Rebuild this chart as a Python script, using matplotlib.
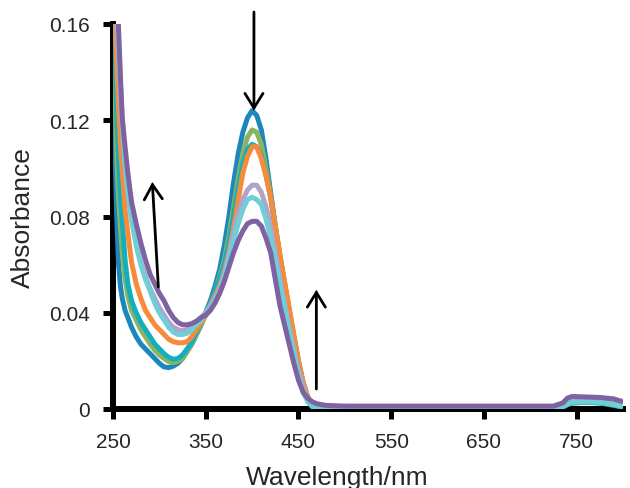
import matplotlib
matplotlib.use("Agg")
import matplotlib.pyplot as plt
from matplotlib.patches import FancyArrowPatch

plt.rcParams['font.family'] = ['Liberation Sans', 'DejaVu Sans']

# Wavelength grid (nm)
wavelength = [250, 252, 254, 256, 258, 260, 263, 266, 270, 275, 280, 285, 290, 295,
              300, 305, 310, 315, 320, 325, 330, 335, 340, 345, 350, 355, 360, 365,
              370, 375, 380, 385, 390, 395, 400, 405, 410, 415, 420, 425, 430, 435,
              440, 445, 450, 455, 460, 465, 470, 475, 480, 500, 550, 600, 650, 700,
              725, 735, 740, 745, 760, 775, 790, 800]

# Absorbance spectra recorded during the titration
abs_blue = [0.175, 0.110, 0.080, 0.060, 0.051, 0.046, 0.041, 0.038, 0.034, 0.030, 0.027, 0.025, 0.023, 0.021,
            0.019, 0.0175, 0.0172, 0.0178, 0.019, 0.021, 0.024, 0.027, 0.031, 0.035, 0.040, 0.045, 0.051, 0.058,
            0.068, 0.080, 0.094, 0.106, 0.115, 0.121, 0.124, 0.122, 0.116, 0.104, 0.090, 0.076, 0.063, 0.052,
            0.041, 0.030, 0.020, 0.011, 0.005, 0.0015, 0.0004, 0.0002, 0.0002, 0.0002, 0.0002, 0.0002, 0.0002, 0.0002,
            0.0002, 0.0008, 0.0018, 0.0025, 0.0028, 0.0025, 0.0015, 0.0008]
abs_green = [0.175, 0.135, 0.105, 0.088, 0.076, 0.065, 0.054, 0.047, 0.041, 0.037, 0.033, 0.030, 0.027, 0.0245,
             0.0225, 0.021, 0.0197, 0.0193, 0.0198, 0.021, 0.024, 0.027, 0.031, 0.035, 0.039, 0.044, 0.049, 0.055,
             0.062, 0.072, 0.084, 0.096, 0.106, 0.113, 0.116, 0.115, 0.110, 0.100, 0.089, 0.076, 0.064, 0.052,
             0.041, 0.030, 0.0195, 0.0105, 0.0045, 0.0013, 0.0004, 0.0002, 0.0002, 0.0002, 0.0002, 0.0002, 0.0002, 0.0002,
             0.0002, 0.0010, 0.0020, 0.0028, 0.0030, 0.0028, 0.0018, 0.0010]
abs_teal = [0.175, 0.150, 0.125, 0.104, 0.089, 0.078, 0.062, 0.052, 0.045, 0.040, 0.036, 0.033, 0.030, 0.027,
            0.025, 0.023, 0.0215, 0.0207, 0.021, 0.0225, 0.025, 0.028, 0.032, 0.036, 0.040, 0.044, 0.049, 0.054,
            0.060, 0.069, 0.080, 0.092, 0.102, 0.108, 0.110, 0.109, 0.105, 0.097, 0.088, 0.075, 0.063, 0.052,
            0.040, 0.029, 0.018, 0.009, 0.0035, 0.0010, 0.0003, 0.0002, 0.0002, 0.0002, 0.0002, 0.0002, 0.0002, 0.0002,
            0.0002, 0.0009, 0.0018, 0.0025, 0.0028, 0.0026, 0.0016, 0.0008]
abs_orange = [0.175, 0.162, 0.143, 0.125, 0.110, 0.099, 0.083, 0.073, 0.061, 0.052, 0.046, 0.041, 0.038, 0.035,
              0.033, 0.031, 0.029, 0.028, 0.0275, 0.0275, 0.028, 0.030, 0.033, 0.036, 0.039, 0.043, 0.047, 0.051,
              0.057, 0.065, 0.075, 0.087, 0.098, 0.105, 0.109, 0.109, 0.104, 0.097, 0.088, 0.076, 0.064, 0.053,
              0.042, 0.031, 0.020, 0.011, 0.005, 0.0015, 0.0005, 0.0004, 0.0004, 0.0005, 0.0005, 0.0005, 0.0005, 0.0005,
              0.0005, 0.0012, 0.0020, 0.0030, 0.0033, 0.0030, 0.0020, 0.0012]
abs_lavender = [0.180, 0.172, 0.160, 0.145, 0.130, 0.117, 0.101, 0.090, 0.079, 0.069, 0.061, 0.055, 0.050, 0.046,
                0.042, 0.039, 0.036, 0.034, 0.033, 0.0325, 0.033, 0.034, 0.036, 0.038, 0.040, 0.043, 0.046, 0.050,
                0.056, 0.064, 0.073, 0.081, 0.087, 0.091, 0.093, 0.093, 0.090, 0.084, 0.076, 0.065, 0.054, 0.044,
                0.034, 0.025, 0.016, 0.009, 0.004, 0.0018, 0.0012, 0.0010, 0.0010, 0.0010, 0.0010, 0.0010, 0.0010, 0.0010,
                0.0010, 0.0015, 0.0028, 0.0035, 0.0040, 0.0038, 0.0030, 0.0020]
abs_cyan = [0.190, 0.180, 0.168, 0.152, 0.135, 0.120, 0.103, 0.091, 0.079, 0.068, 0.060, 0.054, 0.049, 0.044,
            0.040, 0.037, 0.034, 0.032, 0.031, 0.031, 0.0315, 0.033, 0.035, 0.037, 0.039, 0.042, 0.045, 0.049,
            0.055, 0.062, 0.070, 0.077, 0.083, 0.087, 0.088, 0.087, 0.085, 0.079, 0.071, 0.062, 0.052, 0.042,
            0.032, 0.023, 0.014, 0.007, 0.003, 0.0010, 0.0005, 0.0004, 0.0004, 0.0004, 0.0004, 0.0004, 0.0004, 0.0004,
            0.0004, 0.0010, 0.0020, 0.0028, 0.0030, 0.0028, 0.0018, 0.0010]
abs_purple = [0.200, 0.190, 0.176, 0.158, 0.138, 0.121, 0.109, 0.098, 0.086, 0.077, 0.069, 0.062, 0.056, 0.052,
              0.048, 0.045, 0.041, 0.038, 0.036, 0.035, 0.035, 0.0355, 0.0365, 0.038, 0.039, 0.041, 0.044, 0.048,
              0.053, 0.059, 0.065, 0.070, 0.074, 0.077, 0.078, 0.078, 0.076, 0.071, 0.065, 0.054, 0.043, 0.035,
              0.027, 0.019, 0.012, 0.007, 0.0045, 0.0030, 0.0022, 0.0018, 0.0015, 0.0012, 0.0012, 0.0012, 0.0012, 0.0012,
              0.0012, 0.0025, 0.0045, 0.0052, 0.0050, 0.0048, 0.0042, 0.0030]

series = [
    (abs_blue, '#1C86BD'),
    (abs_green, '#8AB460'),
    (abs_teal, '#12B0BE'),
    (abs_orange, '#F68B3C'),
    (abs_lavender, '#B2A4C9'),
    (abs_cyan, '#6ECFD6'),
    (abs_purple, '#7E62A2'),
]

x_ticks = [250, 350, 450, 550, 650, 750]
y_ticks = [0, 0.04, 0.08, 0.12, 0.16]
y_tick_labels = ['0', '0.04', '0.08', '0.12', '0.16']

W, H = 630, 489
fig = plt.figure(figsize=(W / 100, H / 100), dpi=100)
ax = fig.add_axes([113 / W, 79 / H, 510 / W, 385 / H])

for values, color in series:
    ax.plot(wavelength, values, color=color, lw=3.6, solid_joinstyle='round',
            solid_capstyle='butt', zorder=3)

ax.set_xlim(250, 800)
ax.set_ylim(0, 0.16)
ax.set_xticks(x_ticks)
ax.set_yticks(y_ticks)
ax.set_yticklabels(y_tick_labels)

for side in ('top', 'right'):
    ax.spines[side].set_visible(False)
for side in ('left', 'bottom'):
    ax.spines[side].set_linewidth(4.3)
    ax.spines[side].set_color('black')
    ax.spines[side].set_capstyle('projecting')
    ax.spines[side].set_zorder(2.5)

ax.tick_params(direction='out', length=7.5, width=3.6, color='black',
               labelsize=15, labelcolor='#262626')
ax.tick_params(axis='y', pad=9)
ax.tick_params(axis='x', pad=9)

fig.text(23 / W, 1 - 218 / H, 'Absorbance', rotation=90, ha='center', va='center',
         fontsize=19, color='#262626')
fig.text(337 / W, 1 - 478 / H, 'Wavelength/nm', ha='center', va='center',
         fontsize=19, color='#262626')

# Arrows showing the direction of change
arrows = [
    ((402, 0.165), (402, 0.124)),
    ((298.9, 0.0507), (292.4, 0.0943)),
    ((469.3, 0.0083), (469.3, 0.0495)),
]
for tail, tip in arrows:
    arr = FancyArrowPatch(tail, tip, transform=ax.transData,
                          arrowstyle='->,head_length=10.5,head_width=6.5',
                          lw=2.0, color='black', shrinkA=0, shrinkB=0,
                          clip_on=False, zorder=5, joinstyle='miter')
    ax.add_patch(arr)

fig.savefig('out.png', dpi=100)
